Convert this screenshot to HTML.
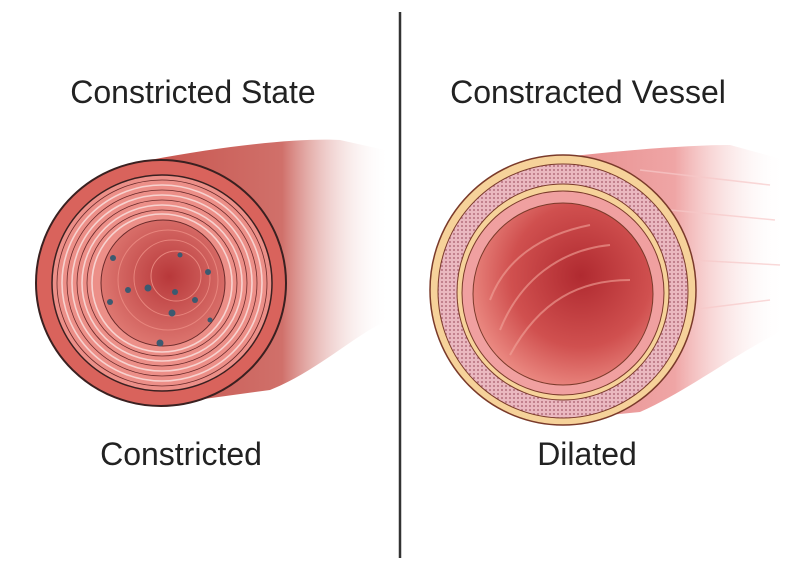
<!DOCTYPE html>
<html><head><style>
body{margin:0;background:#fff;}
svg{display:block}
text{font-family:"Liberation Sans",sans-serif;fill:#222}
</style></head><body>
<svg width="800" height="570" viewBox="0 0 800 570">
<defs>
<linearGradient id="tubeL" x1="0" x2="1" y1="0" y2="0">
<stop offset="0" stop-color="#c8564f"/><stop offset="0.55" stop-color="#d0706a"/><stop offset="1" stop-color="#fff" stop-opacity="0"/>
</linearGradient>
<linearGradient id="tubeR" x1="0" x2="1" y1="0" y2="0">
<stop offset="0" stop-color="#e58a8a"/><stop offset="0.55" stop-color="#efa5a5"/><stop offset="1" stop-color="#fff" stop-opacity="0"/>
</linearGradient>
<radialGradient id="lumL" cx="0.55" cy="0.45" r="0.6">
<stop offset="0" stop-color="#b8383a"/><stop offset="1" stop-color="#e07b74"/>
</radialGradient>
<radialGradient id="lumR" cx="0.6" cy="0.4" r="0.65">
<stop offset="0" stop-color="#b02a30"/><stop offset="0.6" stop-color="#d0504f"/><stop offset="1" stop-color="#ec8c84"/>
</radialGradient>
<pattern id="dots" width="4" height="4" patternUnits="userSpaceOnUse">
<rect width="4" height="4" fill="#eab8c0"/><circle cx="2" cy="2" r="0.9" fill="#a55a6a"/>
</pattern>
</defs>
<line x1="400" y1="12" x2="400" y2="558" stroke="#333" stroke-width="2.5"/>
<text x="193" y="103" font-size="32" text-anchor="middle">Constricted State</text>
<text x="588" y="103" font-size="32" text-anchor="middle">Constracted Vessel</text>
<text x="181" y="465" font-size="32" text-anchor="middle">Constricted</text>
<text x="587" y="465" font-size="32" text-anchor="middle">Dilated</text>

<!-- left tube -->
<path d="M150 160 C230 145 300 138 340 140 L385 150 L390 320 C360 330 320 370 270 390 L160 405 Z" fill="url(#tubeL)"/>
<ellipse cx="161" cy="283" rx="125" ry="123" fill="#d9635c" stroke="#3a2020" stroke-width="2"/>
<ellipse cx="162" cy="283" rx="110" ry="108" fill="#ec8f88" stroke="#3a2020" stroke-width="1.5"/>
<g fill="none" stroke="#f7d2cf" stroke-width="1.6">
<ellipse cx="162" cy="283" rx="100" ry="98"/>
<ellipse cx="162" cy="283" rx="90" ry="88"/>
<ellipse cx="162" cy="283" rx="80" ry="78"/>
<ellipse cx="162" cy="283" rx="70" ry="69"/>
</g>
<g fill="none" stroke="#6a2a2a" stroke-width="0.8">
<ellipse cx="162" cy="283" rx="105" ry="103"/>
<ellipse cx="162" cy="283" rx="95" ry="93"/>
<ellipse cx="162" cy="283" rx="85" ry="83"/>
<ellipse cx="162" cy="283" rx="75" ry="73"/>
</g>
<ellipse cx="163" cy="283" rx="62" ry="63" fill="url(#lumL)" stroke="#6a2a2a" stroke-width="1"/>
<g fill="none" stroke="#e8857d" stroke-width="1">
<ellipse cx="168" cy="280" rx="50" ry="50"/>
<ellipse cx="172" cy="278" rx="38" ry="38"/>
<ellipse cx="176" cy="276" rx="25" ry="25"/>
</g>
<g fill="#3c5a70">
<circle cx="113" cy="258" r="3"/><circle cx="128" cy="290" r="3"/><circle cx="148" cy="288" r="3.5"/>
<circle cx="175" cy="292" r="3"/><circle cx="195" cy="300" r="3"/><circle cx="172" cy="313" r="3.5"/>
<circle cx="160" cy="343" r="3.5"/><circle cx="208" cy="272" r="3"/><circle cx="180" cy="255" r="2.5"/>
<circle cx="110" cy="302" r="3"/><circle cx="210" cy="320" r="2.5"/>
</g>

<!-- right tube -->
<path d="M540 160 C620 150 690 145 730 145 L785 160 L785 330 C740 350 690 390 640 412 L560 420 Z" fill="url(#tubeR)"/>
<g stroke="#f7c9c9" stroke-width="1.5" opacity="0.7">
<line x1="640" y1="170" x2="770" y2="185"/><line x1="670" y1="210" x2="775" y2="220"/>
<line x1="690" y1="260" x2="780" y2="265"/><line x1="690" y1="310" x2="770" y2="300"/>
</g>
<ellipse cx="563" cy="290" rx="133" ry="135" fill="#f6d29a" stroke="#7a3a2a" stroke-width="1.5"/>
<ellipse cx="563" cy="291" rx="125" ry="127" fill="url(#dots)" stroke="#7a3a2a" stroke-width="1"/>
<ellipse cx="563" cy="292" rx="106" ry="108" fill="#f6d29a" stroke="#7a3a2a" stroke-width="1"/>
<ellipse cx="563" cy="293" rx="101" ry="102" fill="#f0a0a0" stroke="#7a3a2a" stroke-width="1"/>
<ellipse cx="563" cy="294" rx="90" ry="91" fill="url(#lumR)" stroke="#7a3a2a" stroke-width="1"/>
<g fill="none" stroke="#f2a49a" stroke-width="2" opacity="0.6">
<path d="M500 330 C520 280 560 250 610 245"/><path d="M510 355 C540 300 580 280 630 280"/>
<path d="M490 300 C505 260 540 235 590 225"/>
</g>
</svg>
</body></html>
